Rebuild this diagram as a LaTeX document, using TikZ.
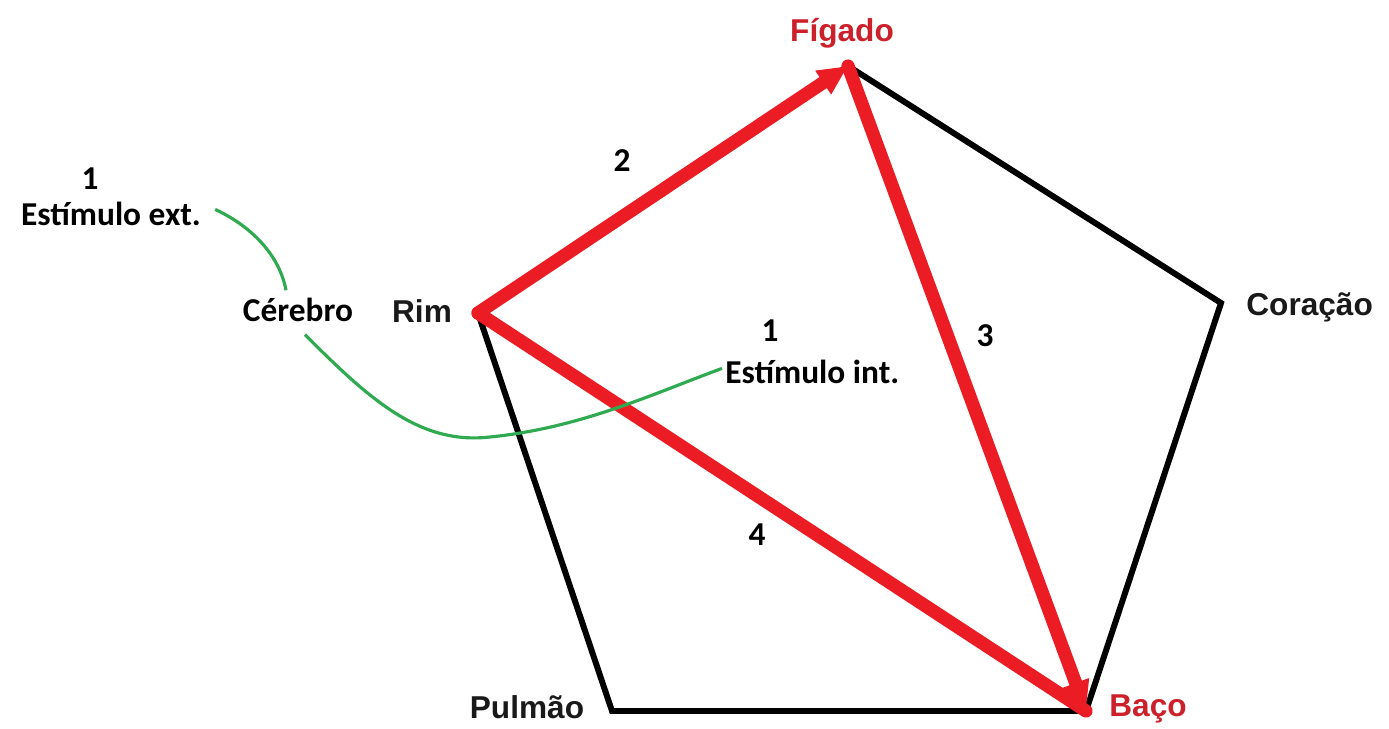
\documentclass[tikz,border=0pt]{standalone}
\usepackage{fontspec}
\newfontfamily\organfont{Liberation Sans}
\newfontfamily\notefont{Carlito}
\usepackage{tikz}
\usetikzlibrary{arrows.meta, positioning}

\definecolor{flowred}{RGB}{236,28,36}
\definecolor{labelred}{RGB}{204,32,42}
\definecolor{nerve}{RGB}{48,170,80}

\begin{document}
\begin{tikzpicture}[x=0.02cm, y=-0.02cm,
    organ/.style={inner sep=0pt, font=\organfont\bfseries\fontsize{18}{20}\selectfont, text=black!90},
    keyorgan/.style={organ, text=labelred},
    note/.style={inner sep=0pt, font=\notefont\bfseries\fontsize{19}{21}\selectfont},
    border/.style={draw=black, line width=3.4pt, line join=miter},
    flow/.style={draw=flowred, line width=7.5pt, line cap=round, line join=round},
    signal/.style={draw=nerve, line width=1.8pt}
]
\useasboundingbox (0,0) rectangle (1389,729);

% corners of the pentagon
\coordinate (figado) at (848,66);
\coordinate (coracao) at (1221,303);
\coordinate (baco) at (1086,711);
\coordinate (pulmao) at (612,711);
\coordinate (rim) at (478,313);

% labels
\node[keyorgan, anchor=base] (figadoLbl) at (842,42) {Fígado};
\node[organ, anchor=base west] (coracaoLbl) at (1246,316) {Coração};
\node[keyorgan, anchor=base west] (bacoLbl) at (1109,716) {Baço};
\node[organ, anchor=base] (pulmaoLbl) at (527,718) {Pulmão};
\node[organ, anchor=base] (rimLbl) at (422,323) {Rim};

\node[note, anchor=base] (cerebro) at (298,322) {Cérebro};
\node[note, anchor=base] (extNum) at (90,190) {1};
\node[note, anchor=base] (ext) at (111,226) {Estímulo ext.};
\node[note, anchor=base] (intNum) at (770,342) {1};
\node[note, anchor=base west] (int) at (725,383) {Estímulo int.};
\node[note, anchor=base] (stepTwo) at (622,172) {2};
\node[note, anchor=base] (stepThree) at (985,347) {3};
\node[note, anchor=base] (stepFour) at (757,545) {4};

% black outline
\draw[border] (figado) -- (coracao) -- (baco) -- (pulmao) -- (rim) -- cycle;

% red circuit
\draw[flow] (rim) -- (baco);
\draw[flow, -{Triangle[length=17pt, width=15pt]}] (rim) -- (figado);
\draw[flow, -{Triangle[length=17pt, width=15pt]}] (figado) -- (baco);

% nerve signals
\coordinate (extEnd) at ([shift={(14,-5)}]ext.east);
\coordinate (cerTop) at ([shift={(-12,-8)}]cerebro.north);
\coordinate (cerLow) at ([shift={(7,12)}]cerebro.south);
\coordinate (intEnd) at ([shift={(-3,-3)}]int.west);
\draw[signal] (extEnd) .. controls (255,228) and (280,258) .. (cerTop);
\draw[signal] (cerLow) .. controls (370,400) and (420,445) .. (490,437)
    .. controls (580,428) and (650,395) .. (intEnd);
\end{tikzpicture}
\end{document}
